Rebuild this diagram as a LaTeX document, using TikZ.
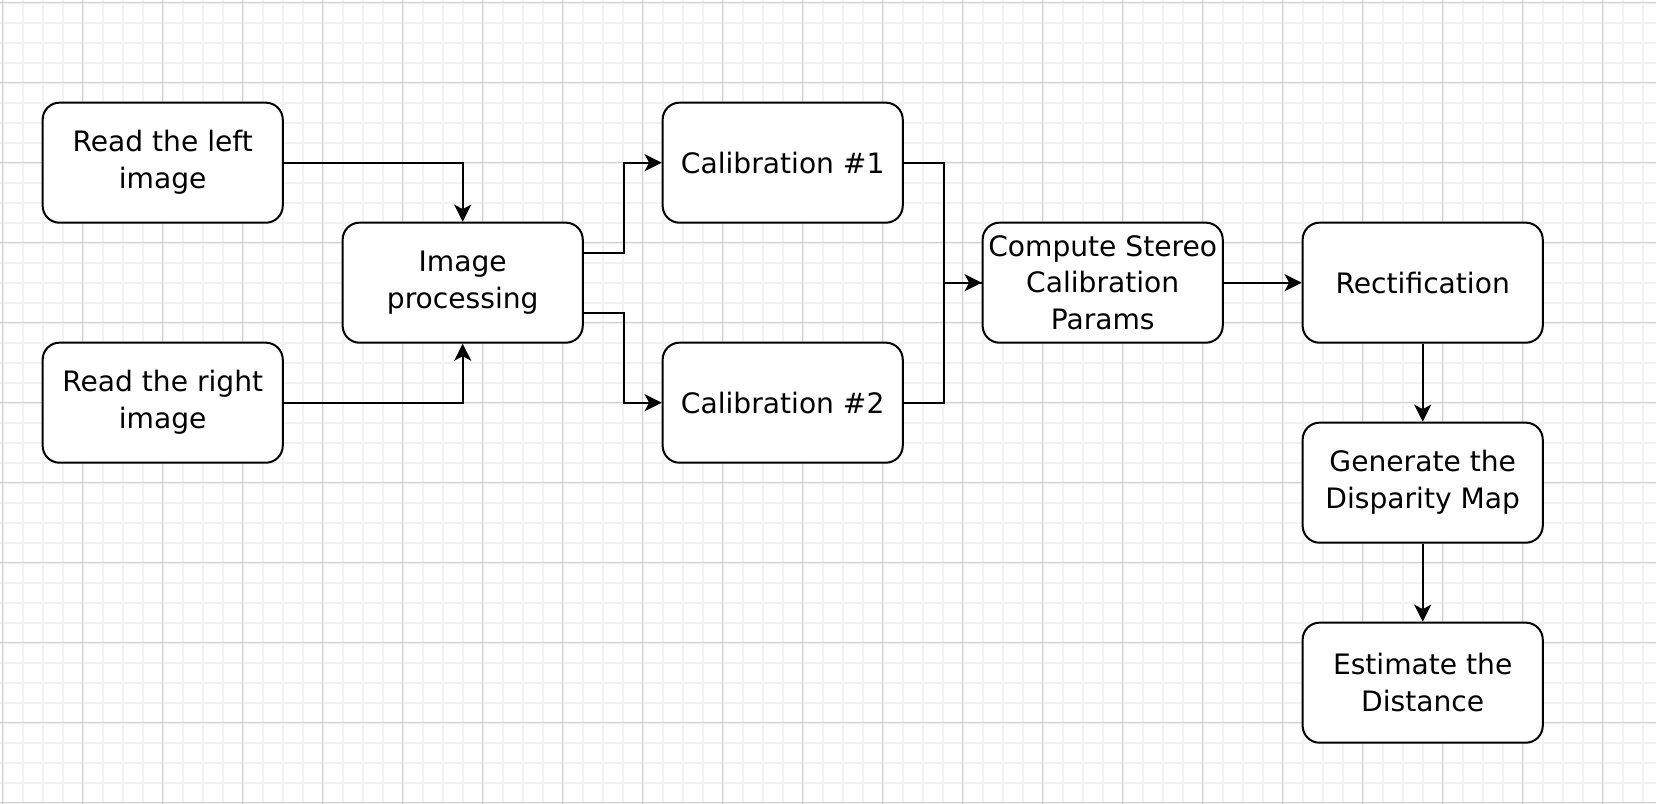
\documentclass[tikz,border=0pt]{standalone}
\usepackage{fontspec}
\setmainfont{DejaVu Sans}
\usetikzlibrary{calc,arrows.meta}
\definecolor{minorgrid}{HTML}{F2F2F2}
\definecolor{majorgrid}{HTML}{CFCFCF}
\tikzset{
	blk/.style={draw=black, fill=white, line width=0.02cm, rounded corners=0.17cm,
		minimum width=2.4cm, minimum height=1.2cm, inner xsep=0.02cm, align=center,
		font=\fontsize{8}{10.5}\selectfont},
	flow/.style={line width=0.02cm, -{Stealth[length=0.17cm,width=0.17cm,inset=0.045cm]}},
	joinline/.style={line width=0.02cm}
}

\begin{document}
\begin{tikzpicture}[x=0.01cm, y=-0.01cm]
				\useasboundingbox (0,0) rectangle (1656,804);
				\fill[white] (0,0) rectangle (1656,804);
				
				\foreach \gx in {2.7,22.7,...,1656} \draw[minorgrid, line width=0.02cm] (\gx,0) -- (\gx,804);
				\foreach \gy in {2.7,22.7,...,804} \draw[minorgrid, line width=0.02cm] (0,\gy) -- (1656,\gy);
				\foreach \gx in {2.7,82.7,...,1656} \draw[majorgrid, line width=0.013cm] (\gx,0) -- (\gx,804);
				\foreach \gy in {2.7,82.7,...,804} \draw[majorgrid, line width=0.013cm] (0,\gy) -- (1656,\gy);
				
				\node[blk] (leftimg) at (162.7,162.7) {Read the left\\image};
				\node[blk] (rightimg) at (162.7,402.7) {Read the right\\image};
				\node[blk] (proc) at (462.7,282.7) {Image\\processing};
				\node[blk] (calone) at (782.7,162.7) {Calibration \#1};
				\node[blk] (caltwo) at (782.7,402.7) {Calibration \#2};
				\node[blk] (stereo) at (1102.7,282.7) {Compute Stereo\\Calibration\\Params};
				\node[blk] (rectif) at (1422.7,282.7) {Rectification};
				\node[blk] (dispmap) at (1422.7,482.7) {Generate the\\Disparity Map};
				\node[blk] (dist) at (1422.7,682.7) {Estimate the\\Distance};
				
				\draw[flow] (leftimg.east) -| (proc.north);
				\draw[flow] (rightimg.east) -| (proc.south);
				\draw[flow] ($(proc.east)+(0,-30)$) -- ++(40,0) |- (calone.west);
				\draw[flow] ($(proc.east)+(0,30)$) -- ++(40,0) |- (caltwo.west);
				\draw[joinline] (caltwo.east) -- ++(40,0) |- (stereo.west);
				\draw[flow] (calone.east) -- ++(40,0) |- (stereo.west);
				\draw[flow] (stereo) -- (rectif);
				\draw[flow] (rectif) -- (dispmap);
				\draw[flow] (dispmap) -- (dist);
			\end{tikzpicture}
\end{document}
